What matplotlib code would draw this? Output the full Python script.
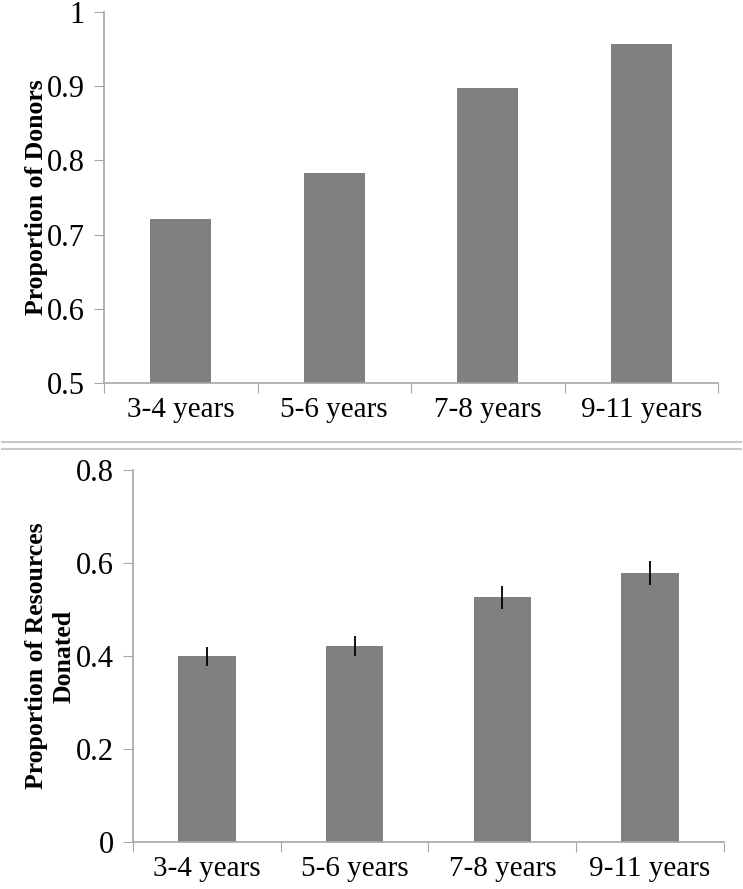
import matplotlib.pyplot as plt
from matplotlib.lines import Line2D

# Dados
grupos = ['3-4 years', '5-6 years', '7-8 years', '9-11 years']
prop_doadores = [0.721, 0.783, 0.897, 0.957]
prop_doado = [0.399, 0.421, 0.526, 0.578]
erro_doado = [0.021, 0.022, 0.025, 0.026]

plt.rcParams['font.family'] = ['Liberation Serif', 'DejaVu Serif']

cinza_eixo = '#a6a6a6'
cor_barra = '#808080'

fig = plt.figure(figsize=(7.43, 8.89), dpi=100)


def formatar(ax, ymin, ymax, passo):
    x = list(range(len(grupos)))
    ax.set_xlim(-0.5, len(grupos) - 0.5)
    ax.set_ylim(ymin, ymax)
    # ticks maiores nas fronteiras das categorias, rótulos nos menores
    ax.set_xticks([i - 0.5 for i in range(len(grupos) + 1)])
    ax.set_xticklabels([])
    ax.set_xticks(x, minor=True)
    ax.set_xticklabels(grupos, minor=True, fontsize=21)
    ax.tick_params(axis='x', which='major', length=7, color=cinza_eixo, direction='out')
    ax.tick_params(axis='x', which='minor', length=0, pad=10)
    n = int(round((ymax - ymin) / passo))
    ticks = [round(ymin + i * passo, 2) for i in range(n + 1)]
    ax.set_yticks(ticks)
    ax.set_yticklabels(['%g' % t for t in ticks], fontsize=22)
    ax.tick_params(axis='y', length=7, color=cinza_eixo, direction='out', pad=7)
    for lado in ['top', 'right']:
        ax.spines[lado].set_visible(False)
    for lado in ['left', 'bottom']:
        ax.spines[lado].set_color(cinza_eixo)
        ax.spines[lado].set_linewidth(1.2)
    return x


# Painel superior: proporção de doadores
ax1 = fig.add_axes([0.140, 0.5692, 0.8264, 0.4173])
x = formatar(ax1, 0.5, 1.0, 0.1)
ax1.bar(x, [v - 0.5 for v in prop_doadores], bottom=0.5, width=0.40, color=cor_barra, zorder=2)
ax1.set_ylabel('Proportion of Donors', fontsize=18.5, fontweight='bold')
ax1.yaxis.set_label_coords(-0.091, 0.5)

# Painel inferior: proporção de recursos doados
ax2 = fig.add_axes([0.179, 0.0529, 0.7954, 0.4184])
x = formatar(ax2, 0.0, 0.8, 0.2)
ax2.bar(x, prop_doado, width=0.39, color=cor_barra, zorder=2)
ax2.errorbar(x, prop_doado, yerr=erro_doado, fmt='none', ecolor='black',
             elinewidth=1.3, capsize=0, zorder=3)
ax2.set_ylabel('Proportion of Resources\nDonated', fontsize=18.5, fontweight='bold',
               linespacing=1.25)
ax2.yaxis.set_label_coords(-0.097, 0.5)

# Linha dupla separando os painéis
for y in [1 - 442 / 889, 1 - 449 / 889]:
    fig.add_artist(Line2D([0.003, 0.997], [y, y], color='#c8c8c8', linewidth=1.5,
                          transform=fig.transFigure))

fig.savefig('out.png', dpi=100)
